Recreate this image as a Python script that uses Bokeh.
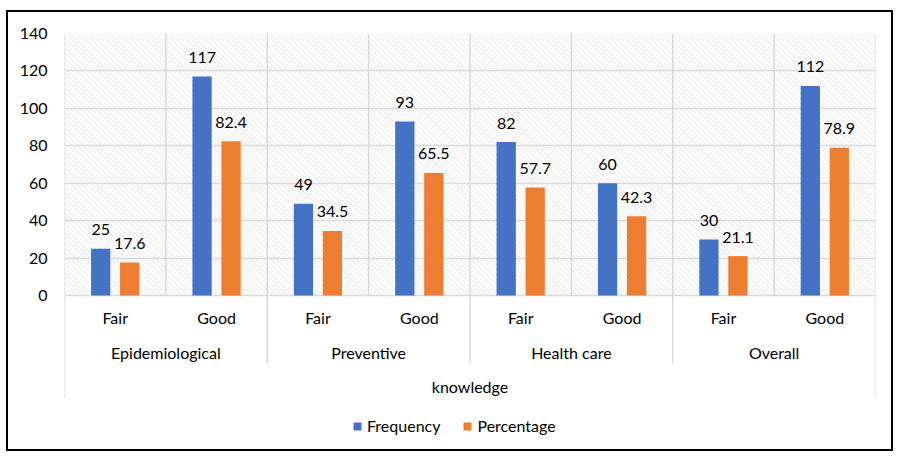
from bokeh.plotting import figure
from bokeh.models import Range1d, FixedTicker, Legend, LegendItem, ColumnDataSource
from bokeh.embed import file_html
from bokeh.resources import INLINE
from bokeh.core.properties import value

# ---- data ----
groups = ["Epidemiological", "Preventive", "Health care", "Overall"]
levels = ["Fair", "Good"]
frequency = [25, 117, 49, 93, 82, 60, 30, 112]
percentage = [17.6, 82.4, 34.5, 65.5, 57.7, 42.3, 21.1, 78.9]
series = ["Frequency", "Percentage"]
colors = ["#4472C4", "#ED7D31"]
axis_title = "knowledge"
y_ticks = [0, 20, 40, 60, 80, 100, 120, 140]

FONT = "Lato"
FS = "16px"
GRID = "#D9D9D9"
TXT = "#000000"

W, H = 887, 441
MBL, MBR, MBT, MBB = 56, 20, 21, 3
Y0, Y1 = -82.8, 140

n = len(groups) * len(levels)
centers = [i + 0.5 for i in range(n)]
off = 0.143
bw = 0.19

p = figure(width=W, height=H, x_range=Range1d(0, n), y_range=Range1d(Y0, Y1),
           output_backend="svg", toolbar_location=None, x_axis_location=None,
           min_border_left=MBL, min_border_right=MBR, min_border_top=MBT, min_border_bottom=MBB)
p.styles = {"border": "2px solid black", "margin-left": "6px", "margin-top": "10px"}
p.outline_line_color = None
p.xgrid.visible = False
p.ygrid.ticker = FixedTicker(ticks=y_ticks)
p.ygrid.grid_line_color = GRID
p.ygrid.grid_line_width = 1.5

ax = p.yaxis[0]
ax.ticker = FixedTicker(ticks=y_ticks)
ax.axis_line_color = None
ax.major_tick_line_color = None
ax.minor_tick_line_color = None
ax.major_label_standoff = 11
ax.major_label_text_font = FONT
ax.major_label_text_font_size = FS
ax.major_label_text_color = TXT

# hatched plot-area background ("\" diagonals, generated in screen space)
fw = W - MBL - MBR
fh = H - MBT - MBB
ppx = fw / n
ppy = fh / (Y1 - Y0)
pw = n * ppx
ph = (y_ticks[-1] - y_ticks[0]) * ppy
step = 5
hx0, hy0, hx1, hy1 = [], [], [], []
c = -pw
while c < ph:
    xs0 = max(0.0, -c)
    xs1 = min(pw, ph - c)
    if xs1 > xs0:
        hx0.append(xs0 / ppx)
        hy0.append(y_ticks[-1] - (xs0 + c) / ppy)
        hx1.append(xs1 / ppx)
        hy1.append(y_ticks[-1] - (xs1 + c) / ppy)
    c += step
p.segment(x0=hx0, y0=hy0, x1=hx1, y1=hy1, line_color="#DCDCDC", line_width=0.7, level="underlay")

# separators
vx = list(range(n + 1))
p.segment(x0=vx, y0=[0] * len(vx), x1=vx, y1=[y_ticks[-1]] * len(vx), line_color=GRID, line_width=1.5)
gx = list(range(0, n + 1, len(levels)))
gy = [-54.5 if (x == 0 or x == n) else -36.3 for x in gx]
p.segment(x0=gx, y0=[0] * len(gx), x1=gx, y1=gy, line_color=GRID, line_width=1.5)

# bars
src_f = ColumnDataSource(dict(x=[c - off for c in centers], top=frequency,
                              lab=[str(v) for v in frequency]))
src_p = ColumnDataSource(dict(x=[c + off for c in centers], top=percentage,
                              lab=[f"{v:.1f}" for v in percentage]))
r1 = p.vbar(x="x", top="top", width=bw, bottom=0, source=src_f, fill_color=colors[0], line_color=None)
r2 = p.vbar(x="x", top="top", width=bw, bottom=0, source=src_p, fill_color=colors[1], line_color=None)

for src in (src_f, src_p):
    p.text(x="x", y="top", text="lab", source=src, text_align="center", text_baseline="middle",
           y_offset=-19, text_font=value(FONT), text_font_size=FS, text_color=TXT)

# category labels
p.text(x=centers, y=[-11.5] * n, text=levels * len(groups), text_align="center",
       text_baseline="middle", text_font=value(FONT), text_font_size=FS, text_color=TXT)
gc = [len(levels) * g + len(levels) / 2 for g in range(len(groups))]
p.text(x=gc, y=[-30.2] * len(groups), text=groups, text_align="center",
       text_baseline="middle", text_font=value(FONT), text_font_size=FS, text_color=TXT)
p.text(x=[n / 2], y=[-48.8], text=[axis_title], text_align="center",
       text_baseline="middle", text_font=value(FONT), text_font_size=FS, text_color=TXT)

legend = Legend(items=[LegendItem(label=series[0], renderers=[r1]),
                       LegendItem(label=series[1], renderers=[r2])],
                location=(288, 15), orientation="horizontal", glyph_width=10, glyph_height=10,
                label_standoff=5, spacing=22, padding=0, margin=0, border_line_color=None,
                background_fill_alpha=0, label_text_font=FONT, label_text_font_size=FS,
                label_text_color=TXT)
p.add_layout(legend)

open("out.html", "w").write(file_html(p, INLINE))
